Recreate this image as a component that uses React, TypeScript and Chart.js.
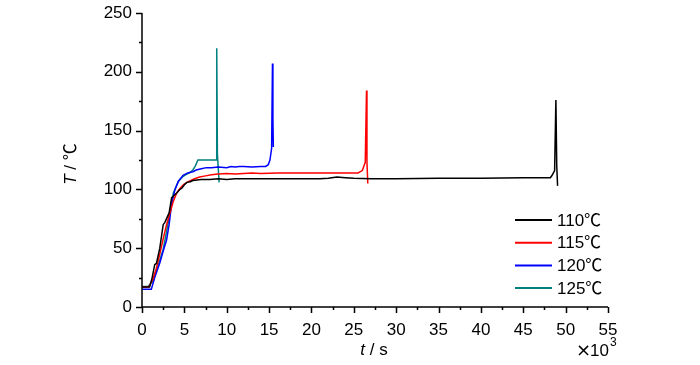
import React, { useEffect, useRef } from "react";
import { Chart, registerables } from "chart.js";
Chart.register(...registerables);

// time in 10^3 s, temperature in ℃
const t110 = [0, 0.9, 1.2, 1.5, 1.7, 2.1, 2.3, 2.5, 2.7, 3.2, 3.5, 3.8, 4.1, 4.4, 4.7, 5.0, 5.3, 5.7, 6.0, 6.5, 7.0, 8.0, 9.0, 10, 11, 12, 13, 15, 18, 21, 22, 23, 24, 25, 27, 30, 35, 40, 45, 48.2, 48.4, 48.7, 48.85, 48.95, 49.05];
const T110 = [17, 17, 25, 36, 37, 50, 60, 70, 72, 80, 93, 95, 97, 99.5, 101, 104, 106, 106.5, 107.5, 108, 108.5, 108.5, 109, 108.5, 109, 109, 109, 109, 109, 109, 109.5, 110.5, 110, 109.5, 109, 109, 109.5, 109.5, 110, 110, 112, 116, 176, 120, 103];

const t115 = [0, 0.8, 1.3, 1.7, 2.1, 2.5, 2.9, 3.3, 3.7, 4.1, 4.5, 4.9, 5.3, 5.7, 6.2, 6.8, 7.5, 8.2, 9, 10, 11, 12, 13, 14, 16, 18, 20, 22, 24, 25.5, 26.0, 26.35, 26.5, 26.55, 26.65];
const T115 = [17, 17, 24, 33, 45, 58, 70, 80, 90, 97, 101, 104, 106, 107.5, 109, 110.5, 111.5, 112.5, 113, 113.5, 113, 113.5, 114, 113.5, 114, 114, 114, 114, 114, 114, 116, 123, 184, 123, 105];

const t120 = [0, 1.1, 1.5, 2.1, 2.6, 2.9, 3.2, 3.5, 3.9, 4.3, 4.85, 5.4, 6.0, 6.4, 7.0, 7.6, 8.2, 9, 10, 10.5, 11, 11.5, 12, 13, 14, 14.6, 14.9, 15.1, 15.3, 15.4, 15.45, 15.5];
const T120 = [15, 15, 25, 37.5, 50, 57, 70, 88, 100, 107, 112, 114, 115, 116.5, 117.5, 118.5, 118.5, 119, 118.5, 119.5, 119, 119.5, 119.5, 119, 119.5, 119.5, 121, 125, 135, 207, 160, 136];

const t125 = [0, 0.7, 1.3, 1.9, 2.5, 3.1, 3.7, 4.3, 4.85, 5.3, 5.6, 6.0, 6.3, 6.6, 7.5, 8.5, 8.8, 8.82, 8.9, 9.1];
const T125 = [17.5, 17.5, 22, 35, 49, 72, 97, 107, 111, 113, 114, 116.5, 120, 125, 125, 125, 125, 220, 130, 106];

const seriesLabels = ["110℃", "115℃", "120℃", "125℃"];
const seriesColors = ["#000000", "#ff0000", "#0000ff", "#008080"];
const seriesT = [t110, t115, t120, t125];
const seriesY = [T110, T115, T120, T125];

const xMin = 0, xMax = 55, xStep = 5;
const yMin = 0, yMax = 250, yStep = 50;
const xTitleItalic = "t";
const xTitleRest = " / s";
const yTitleItalic = "T";
const yTitleRest = " / ℃";
const xMultiplierSign = "×";
const xMultiplierBase = "10";
const xMultiplierExp = "3";

const FONT = "'Liberation Sans', Arial, 'Noto Sans CJK SC', sans-serif";

const decor = {
  id: "decor",
  afterDraw(chart: any) {
    const ctx = chart.ctx;
    const { left, right, top, bottom } = chart.chartArea;
    const xs = chart.scales.x;
    const ys = chart.scales.y;
    ctx.save();
    ctx.strokeStyle = "#000";
    ctx.lineWidth = 1.5;
    ctx.beginPath();
    ctx.moveTo(left, top);
    ctx.lineTo(left, bottom);
    ctx.lineTo(right, bottom);
    for (let v = xMin; v <= xMax + 1e-6; v += xStep / 2) {
      const px = Math.round(xs.getPixelForValue(v)) + 0.5;
      const major = Math.abs(v / xStep - Math.round(v / xStep)) < 1e-6;
      ctx.moveTo(px, bottom);
      ctx.lineTo(px, bottom + (major ? 6 : 3));
    }
    for (let v = yMin; v <= yMax + 1e-6; v += yStep / 2) {
      const py = Math.round(ys.getPixelForValue(v)) + 0.5;
      const major = Math.abs(v / yStep - Math.round(v / yStep)) < 1e-6;
      ctx.moveTo(left, py);
      ctx.lineTo(left - (major ? 6 : 3), py);
    }
    ctx.stroke();

    ctx.fillStyle = "#000";
    ctx.textBaseline = "middle";
    // x title
    ctx.font = `italic 17px ${FONT}`;
    const w1 = ctx.measureText(xTitleItalic).width;
    ctx.font = `17px ${FONT}`;
    const w2 = ctx.measureText(xTitleRest).width;
    const xc = 374;
    let sx = xc - (w1 + w2) / 2;
    ctx.font = `italic 17px ${FONT}`;
    ctx.fillText(xTitleItalic, sx, 350);
    ctx.font = `17px ${FONT}`;
    ctx.fillText(xTitleRest, sx + w1, 350);

    // multiplier
    ctx.font = `18px 'DejaVu Sans', sans-serif`;
    ctx.fillText(xMultiplierSign, 576, 351);
    const ws = ctx.measureText(xMultiplierSign).width;
    ctx.font = `17px ${FONT}`;
    ctx.fillText(xMultiplierBase, 576 + ws - 1, 351);
    const wm = ctx.measureText(xMultiplierBase).width;
    ctx.font = `12px ${FONT}`;
    ctx.fillText(xMultiplierExp, 576 + ws + wm, 343);

    // y title
    ctx.save();
    ctx.translate(71, 164);
    ctx.rotate(-Math.PI / 2);
    ctx.font = `italic 17px ${FONT}`;
    const v1 = ctx.measureText(yTitleItalic).width;
    ctx.font = `17px ${FONT}`;
    const v2 = ctx.measureText(yTitleRest).width;
    let sy = -(v1 + v2) / 2;
    ctx.font = `italic 17px ${FONT}`;
    ctx.fillText(yTitleItalic, sy, 0);
    ctx.font = `17px ${FONT}`;
    ctx.fillText(yTitleRest, sy + v1, 0);
    ctx.restore();

    // legend
    ctx.font = `17px ${FONT}`;
    ctx.lineWidth = 2;
    seriesLabels.forEach((lab, i) => {
      const y = 220 + i * 22.7;
      ctx.strokeStyle = seriesColors[i];
      ctx.beginPath();
      ctx.moveTo(515, y);
      ctx.lineTo(552, y);
      ctx.stroke();
      ctx.fillStyle = "#000";
      ctx.fillText(lab, 557, y + 1);
    });
    ctx.restore();
  },
};

export default function App() {
  const ref = useRef<HTMLCanvasElement | null>(null);
  useEffect(() => {
    if (!ref.current) return;
    const datasets = seriesLabels.map((lab, i) => ({
      label: lab,
      data: seriesT[i].map((t, j) => ({ x: t, y: seriesY[i][j] })),
      borderColor: seriesColors[i],
      backgroundColor: seriesColors[i],
      borderWidth: 1.5,
      pointRadius: 0,
      tension: 0,
      fill: false,
    }));
    const chart = new Chart(ref.current, {
      type: "line",
      data: { datasets },
      options: {
        animation: false,
        responsive: true,
        maintainAspectRatio: false,
        layout: { padding: { left: 0, top: 13, right: 92, bottom: 0 } },
        plugins: { legend: { display: false }, tooltip: { enabled: false } },
        scales: {
          x: {
            type: "linear",
            min: xMin,
            max: xMax,
            grid: { display: false, drawTicks: false },
            border: { display: false },
            ticks: { stepSize: xStep, padding: 13, color: "#000", font: { size: 17, family: FONT }, maxRotation: 0 },
            afterFit: (s: any) => { s.height = 58; s.paddingLeft = 0; s.paddingRight = 0; },
          },
          y: {
            type: "linear",
            min: yMin,
            max: yMax,
            grid: { display: false, drawTicks: false },
            border: { display: false },
            ticks: { stepSize: yStep, padding: 10, color: "#000", font: { size: 17, family: FONT } },
            afterFit: (s: any) => { s.width = 142; s.paddingTop = 0; s.paddingBottom = 0; },
          },
        },
      },
      plugins: [decor],
    } as any);
    return () => chart.destroy();
  }, []);
  return (
    <div style={{ position: "absolute", left: 0, top: 0, width: 700, height: 365, background: "#fff" }}>
      <canvas ref={ref} />
    </div>
  );
}
